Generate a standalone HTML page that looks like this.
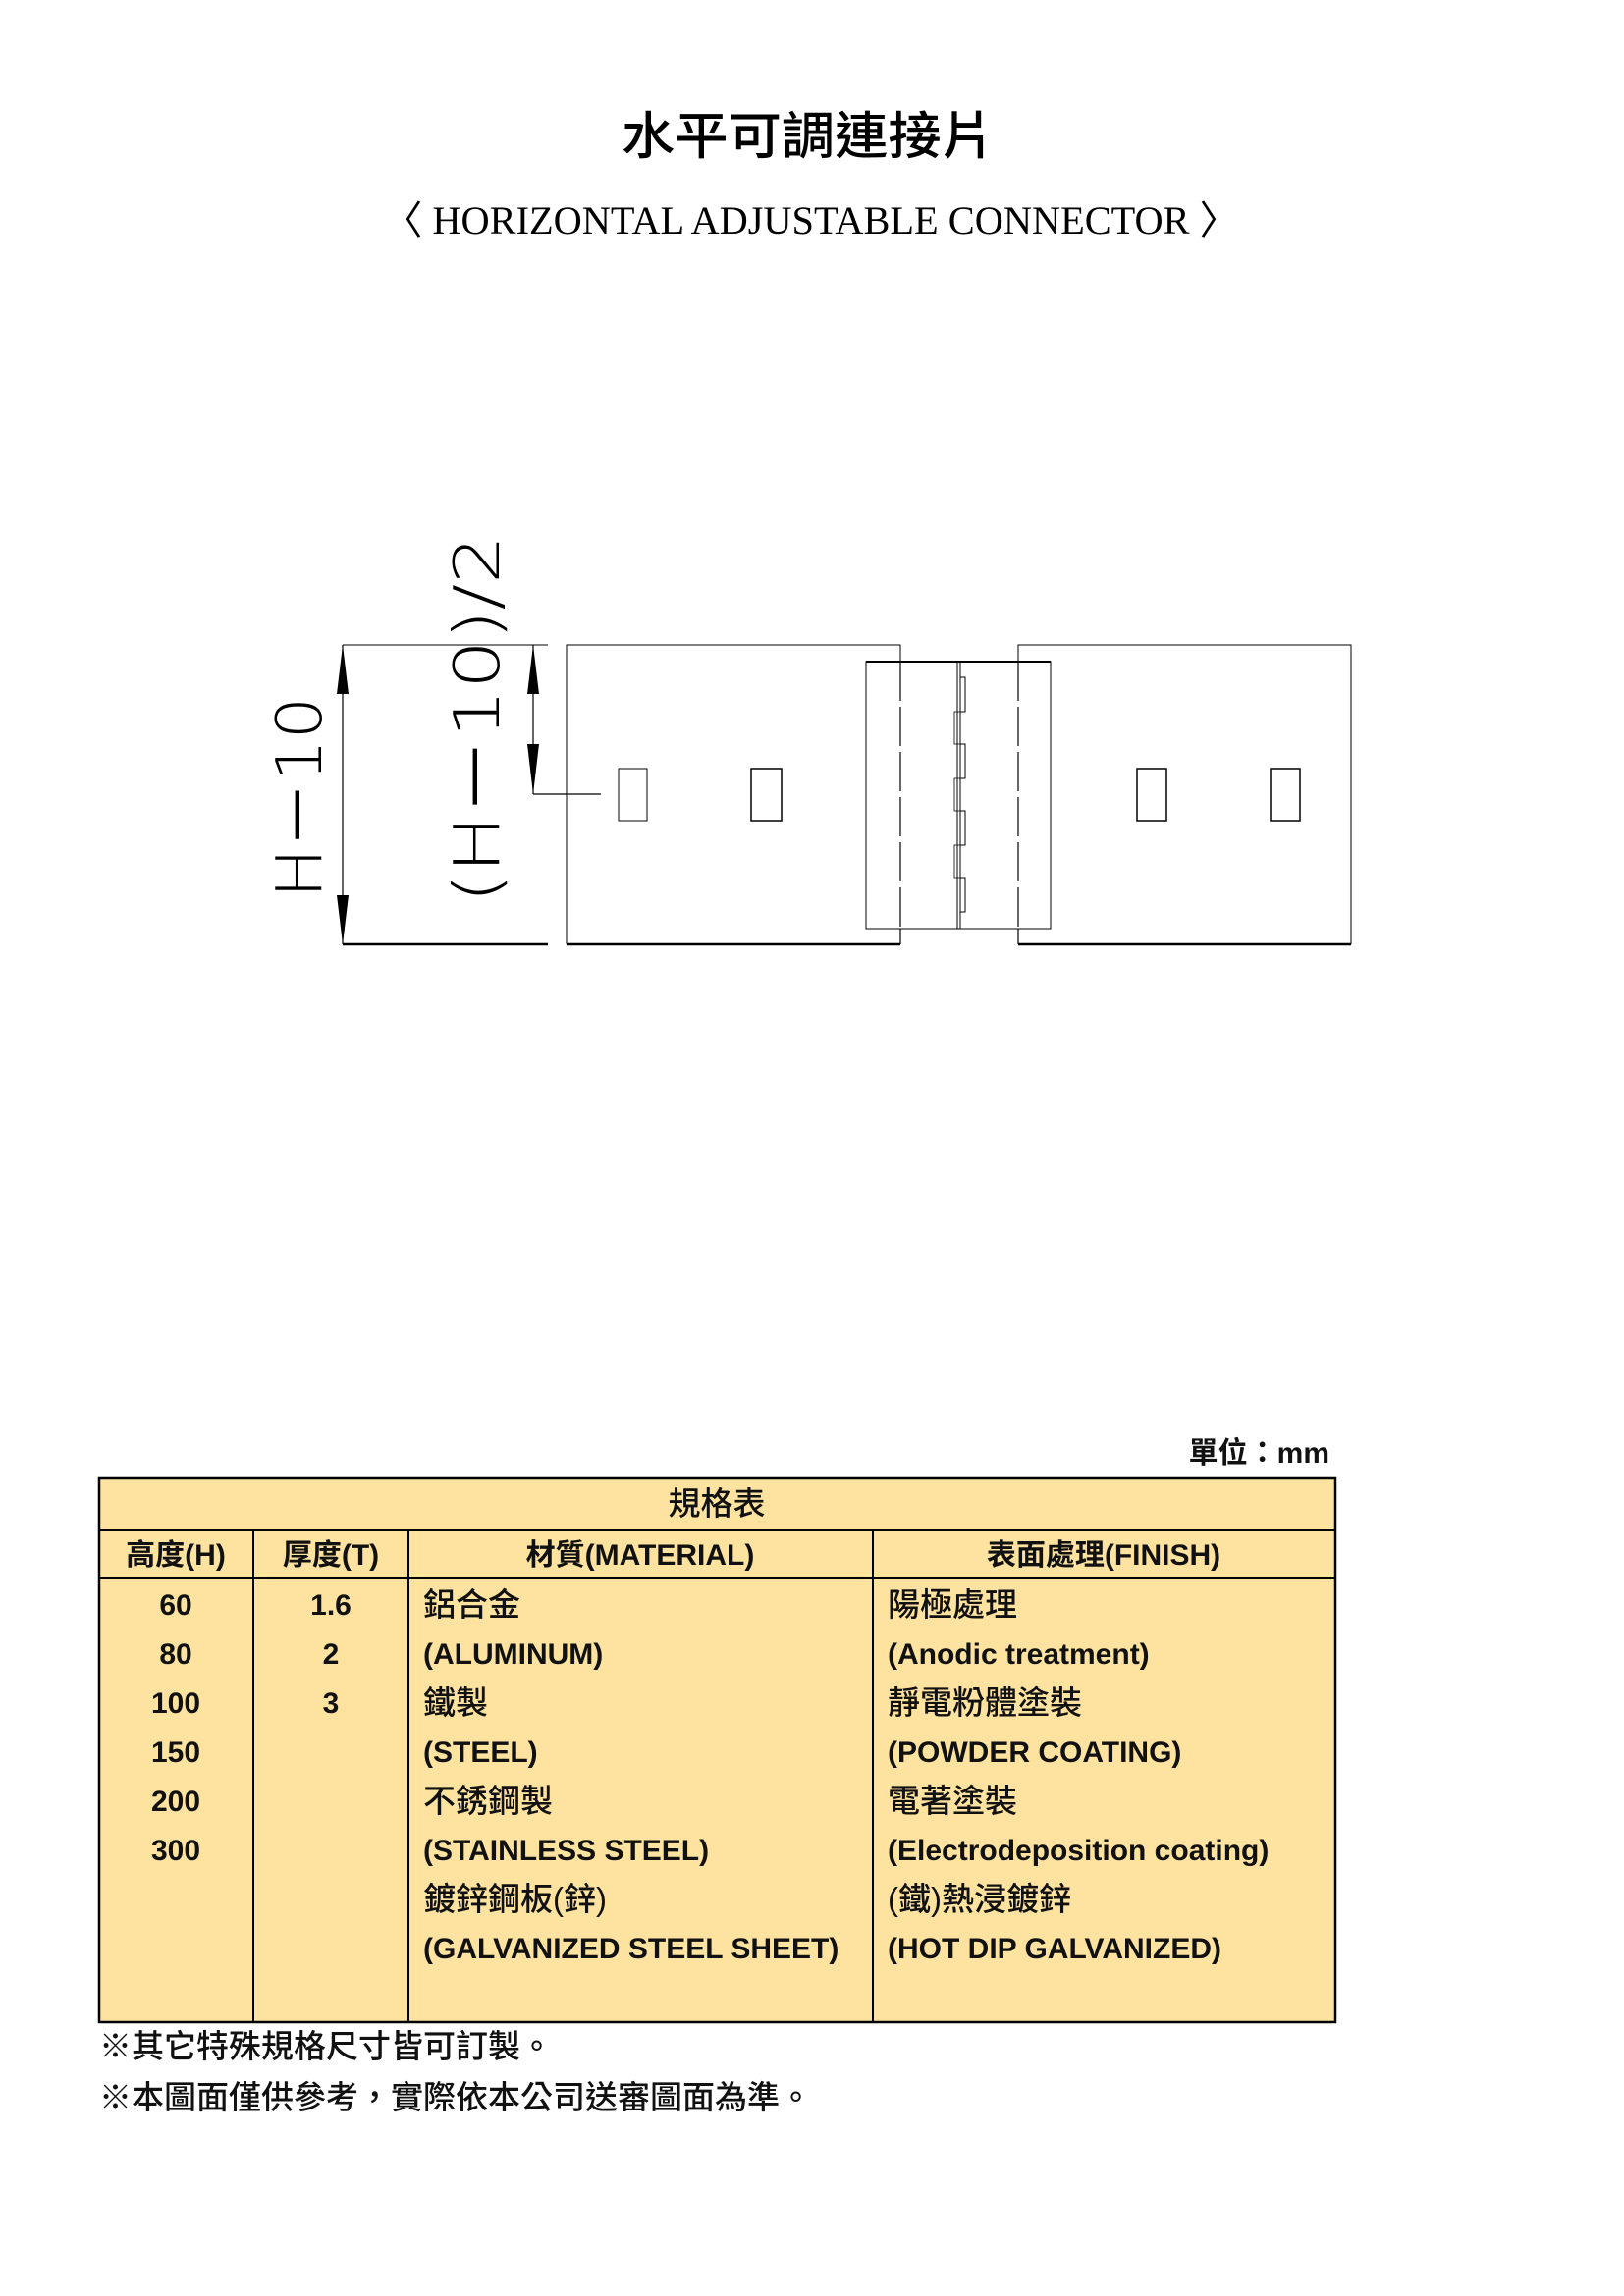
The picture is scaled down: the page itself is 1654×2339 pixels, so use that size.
<!DOCTYPE html>
<html><head><meta charset="utf-8"><style>
html,body{margin:0;padding:0;background:#fff;}
svg{display:block;}
.cj{font-family:"Liberation Sans","Noto Sans CJK TC",sans-serif;}
.t{font-family:"Liberation Sans","Noto Sans CJK TC",sans-serif;font-size:30px;fill:#111;}
.c{font-size:33px;font-weight:500;}
</style></head><body>
<svg width="1654" height="2339" viewBox="0 0 1654 2339" xmlns="http://www.w3.org/2000/svg">
<rect width="1654" height="2339" fill="#fff"/>
<text x="823" y="157" text-anchor="middle" class="cj" font-size="52" font-weight="500" textLength="380" lengthAdjust="spacingAndGlyphs">水平可調連接片</text>
<text x="826" y="238" text-anchor="middle" font-family="Liberation Serif,serif" font-size="40" textLength="872" lengthAdjust="spacingAndGlyphs">〈 HORIZONTAL ADJUSTABLE CONNECTOR 〉</text>

<g stroke="#000" fill="none">
 <line x1="349" y1="657" x2="558" y2="657" stroke-width="1"/>
 <line x1="349" y1="962" x2="558" y2="962" stroke-width="2.5"/>
 <line x1="349" y1="657" x2="349" y2="962" stroke-width="1.2"/>
 <line x1="543" y1="657" x2="543" y2="809" stroke-width="1.2"/>
 <line x1="543" y1="809" x2="612" y2="809" stroke-width="1.2"/>
 <path d="M577 962 V657 H917 V674" stroke-width="1"/>
 <line x1="577" y1="962" x2="917" y2="962" stroke-width="2.5"/>
 <line x1="917" y1="946" x2="917" y2="962" stroke-width="1.2"/>
 <path d="M1037 674 V657 H1376 V962" stroke-width="1"/>
 <line x1="1037" y1="962" x2="1376" y2="962" stroke-width="2.5"/>
 <line x1="1037" y1="946" x2="1037" y2="962" stroke-width="1.2"/>
 <rect x="882" y="674" width="188" height="272" stroke-width="1"/>
 <line x1="882" y1="674" x2="1070" y2="674" stroke-width="2"/>
 <line x1="917" y1="674" x2="917" y2="946" stroke-width="1.2" stroke-dasharray="40 6"/>
 <line x1="1037" y1="674" x2="1037" y2="946" stroke-width="1.2" stroke-dasharray="40 6"/>
 <line x1="975" y1="674" x2="975" y2="946" stroke-width="1"/>
 <line x1="978" y1="674" x2="978" y2="946" stroke-width="1"/>
 <path d="M978 690 H983 V725 H978 M978 758 H983 V793 H978 M978 826 H983 V861 H978 M978 894 H983 V929 H978" stroke-width="1"/>
 <path d="M978 725 H972 V758 H978 M978 793 H972 V826 H978 M978 861 H972 V894 H978" stroke-width="0.8"/>
 <rect x="630" y="783" width="29" height="53" stroke-width="1"/>
 <rect x="765" y="783" width="31" height="53" stroke-width="1.5"/>
 <rect x="1158" y="783" width="30" height="53" stroke-width="1.5"/>
 <rect x="1294" y="783" width="30" height="53" stroke-width="1.5"/>
</g>
<g fill="#000">
 <polygon points="349,657 343,707 355,707"/>
 <polygon points="349,962 343,912 355,912"/>
 <polygon points="543,657 537,707 549,707"/>
 <polygon points="543,809 537,758 549,758"/>
</g>
<text transform="translate(327,915) rotate(-90)" font-family="DejaVu Sans,sans-serif" font-size="64" font-weight="200" textLength="205" lengthAdjust="spacingAndGlyphs">H－10</text>
<text transform="translate(508,920) rotate(-90)" font-family="DejaVu Sans,sans-serif" font-size="64" font-weight="200" textLength="375" lengthAdjust="spacingAndGlyphs">(H－10)/2</text>

<text x="1354" y="1490" text-anchor="end" class="t" font-weight="bold">單位：mm</text>

<rect x="101" y="1506" width="1259" height="554" fill="#fde2a0" stroke="#000" stroke-width="2.5"/>
<g stroke="#000" stroke-width="2">
 <line x1="101" y1="1559" x2="1360" y2="1559"/>
 <line x1="101" y1="1608" x2="1360" y2="1608"/>
 <line x1="258" y1="1559" x2="258" y2="2060"/>
 <line x1="416" y1="1559" x2="416" y2="2060"/>
 <line x1="889" y1="1559" x2="889" y2="2060"/>
</g>
<g class="t" font-weight="bold">
<text x="730" y="1543" text-anchor="middle" class="c">規格表</text>
<text x="179" y="1594" text-anchor="middle">高度(H)</text>
<text x="337" y="1594" text-anchor="middle">厚度(T)</text>
<text x="652" y="1594" text-anchor="middle">材質(MATERIAL)</text>
<text x="1124" y="1594" text-anchor="middle">表面處理(FINISH)</text>
<text x="179" y="1645" text-anchor="middle">60</text>
<text x="179" y="1695" text-anchor="middle">80</text>
<text x="179" y="1745" text-anchor="middle">100</text>
<text x="179" y="1795" text-anchor="middle">150</text>
<text x="179" y="1845" text-anchor="middle">200</text>
<text x="179" y="1895" text-anchor="middle">300</text>
<text x="337" y="1645" text-anchor="middle">1.6</text>
<text x="337" y="1695" text-anchor="middle">2</text>
<text x="337" y="1745" text-anchor="middle">3</text>
<text x="431" y="1646" class="c">鋁合金</text>
<text x="431" y="1695">(ALUMINUM)</text>
<text x="431" y="1746" class="c">鐵製</text>
<text x="431" y="1795">(STEEL)</text>
<text x="431" y="1846" class="c">不銹鋼製</text>
<text x="431" y="1895">(STAINLESS STEEL)</text>
<text x="431" y="1946" class="c">鍍鋅鋼板(鋅)</text>
<text x="431" y="1995">(GALVANIZED STEEL SHEET)</text>
<text x="904" y="1646" class="c">陽極處理</text>
<text x="904" y="1695">(Anodic treatment)</text>
<text x="904" y="1746" class="c">靜電粉體塗裝</text>
<text x="904" y="1795">(POWDER COATING)</text>
<text x="904" y="1846" class="c">電著塗裝</text>
<text x="904" y="1895">(Electrodeposition coating)</text>
<text x="904" y="1946" class="c">(鐵)熱浸鍍鋅</text>
<text x="904" y="1995">(HOT DIP GALVANIZED)</text>
<text x="101" y="2096" class="c">※其它特殊規格尺寸皆可訂製。</text>
<text x="101" y="2148" class="c">※本圖面僅供參考，實際依本公司送審圖面為準。</text>
</g>
</svg>
</body></html>
